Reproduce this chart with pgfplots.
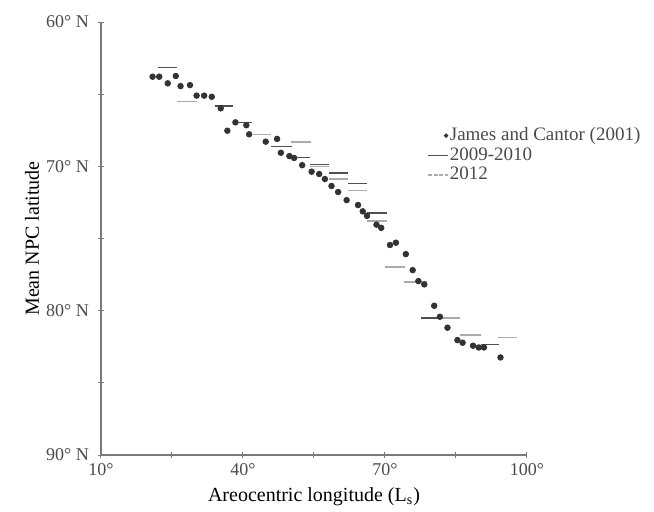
\documentclass[border=0pt]{standalone}
\usepackage{pgfplots}
\pgfplotsset{compat=1.18}
\usepackage{fontspec}
\setmainfont{Liberation Serif}

\definecolor{txt}{HTML}{4A4A4A}
\definecolor{axc}{HTML}{7A7A7A}
\definecolor{dotc}{HTML}{333333}
\definecolor{darkl}{HTML}{505050}
\definecolor{lightl}{HTML}{ABABAB}

\begin{document}
\begin{tikzpicture}
\begin{axis}[
    at={(0,0)}, anchor=south west,
    width=213pt, height=216.5pt,
    scale only axis,
    xmin=10, xmax=100,
    ymin=60, ymax=90,
    y dir=reverse,
    axis x line=bottom,
    axis y line=left,
    axis line style={-, draw=axc, line width=0.6pt},
    xtick={10,40,70,100},
    xticklabels={10°,40°,70°,100°},
    minor xtick={25,55,85},
    ytick={60,70,80,90},
    yticklabels={60° N,70° N,80° N,90° N},
    minor ytick={65,75,85},
    tick align=center,
    major tick length=3pt,
    minor tick length=3pt,
    tick style={draw=axc, line width=0.5pt},
    ticklabel style={font=\fontsize{9}{10}\selectfont, text=txt},
    xticklabel style={yshift=1pt},
    yticklabel style={xshift=-1pt},
    xlabel={Areocentric longitude (L\textsubscript{s})},
    ylabel={Mean NPC latitude},
    label style={font=\fontsize{8.6}{10}\selectfont, text=txt},
    every axis x label/.style={at={([yshift=-21pt]rel axis cs:0.5,0)}, anchor=center},
    every axis y label/.style={at={([xshift=-34.5pt]rel axis cs:0,0.5)}, anchor=center, rotate=90},
    unbounded coords=jump,
    clip=false,
    legend style={
        at={(rel axis cs:0.765,0.762)}, anchor=north west,
        draw=none, fill=none,
        font=\fontsize{9.5}{10}\selectfont, text=txt,
        row sep=0pt,
        inner sep=0pt,
        nodes={inner xsep=0.5pt, inner ysep=1pt},
    },
    legend cell align=left,
]

% James and Cantor (2001)
\addplot[only marks, mark=*, mark size=1.4pt, color=dotc,
    legend image code/.code={\fill[dotc] (9pt,0pt) circle (0.9pt);}]
table {
x y
20.9 63.79
22.3 63.79
24.1 64.25
25.8 63.74
26.8 64.44
28.8 64.37
30.2 65.10
31.8 65.10
33.4 65.18
35.3 65.98
36.7 67.53
38.4 66.95
40.7 67.15
41.3 67.78
44.8 68.29
47.2 68.10
48.0 69.06
49.8 69.29
50.8 69.42
52.5 69.92
54.5 70.37
56.1 70.53
57.3 70.88
58.7 71.36
60.1 71.78
61.9 72.34
64.3 72.68
65.3 73.12
66.2 73.43
68.2 74.04
69.2 74.26
71.05 75.45
72.3 75.29
74.4 76.08
75.85 77.19
77.05 77.95
78.3 78.18
80.4 79.66
81.6 80.42
83.2 81.18
85.3 82.04
86.4 82.22
88.6 82.43
89.8 82.55
90.9 82.55
94.4 83.24
};
\addlegendentry{James and Cantor (2001)}

% 2009-2010
\addplot[no marks, color=darkl, line width=0.8pt,
    legend image code/.code={\draw[darkl, line width=0.8pt] (0pt,0pt) -- (10pt,0pt);}]
table {
x y
22.1 63.16
26.0 63.16
nan nan
34.0 65.82
37.9 65.82
nan nan
38.4 66.95
42.0 66.95
nan nan
46.0 68.62
50.3 68.62
nan nan
50.3 69.38
54.2 69.38
nan nan
54.2 69.88
58.2 69.88
nan nan
58.2 70.46
62.2 70.46
nan nan
62.2 71.20
66.2 71.20
nan nan
66.2 73.22
70.4 73.22
nan nan
77.7 80.52
81.6 80.52
nan nan
90.2 82.34
94.0 82.34
};
\addlegendentry{2009-2010}

% 2012
\addplot[no marks, color=lightl, line width=0.8pt,
    legend image code/.code={\draw[lightl, line width=0.8pt, dash pattern=on 2pt off 0.8pt] (0pt,0pt) -- (10pt,0pt);}]
table {
x y
26.1 65.52
30.2 65.52
nan nan
42.2 67.80
46.0 67.80
nan nan
50.2 68.30
54.3 68.30
nan nan
54.2 70.02
58.2 70.02
nan nan
58.2 70.87
62.2 70.87
nan nan
62.2 71.68
66.2 71.68
nan nan
66.2 73.80
70.4 73.80
nan nan
70.0 76.98
74.3 76.98
nan nan
74.0 78.00
78.8 78.00
nan nan
81.6 80.52
85.8 80.52
nan nan
85.8 81.69
90.3 81.69
nan nan
93.9 81.85
97.8 81.85
};
\addlegendentry{2012}

\end{axis}
\pgfresetboundingbox
\useasboundingbox (-50.5pt,-28pt) rectangle (276.5pt,227.5pt);
\end{tikzpicture}
\end{document}
